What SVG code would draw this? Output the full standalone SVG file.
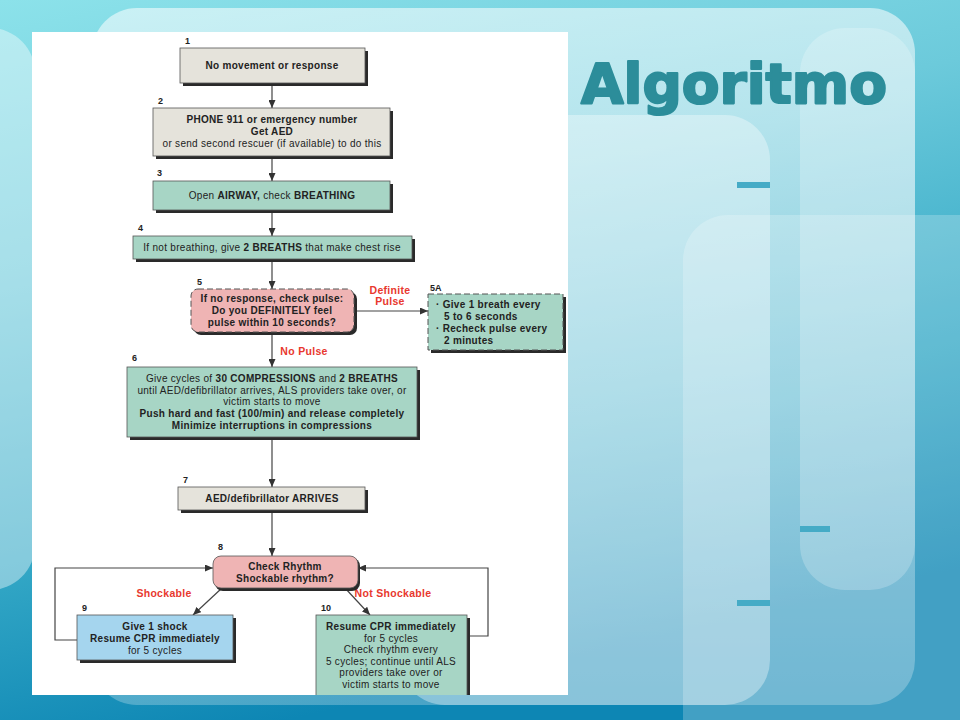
<svg xmlns="http://www.w3.org/2000/svg" width="960" height="720" viewBox="0 0 960 720">
<defs>
<linearGradient id="bg" x1="0" y1="0" x2="0.3" y2="1">
<stop offset="0" stop-color="#8ce2ea"/>
<stop offset="0.35" stop-color="#6ccadb"/>
<stop offset="0.72" stop-color="#34a8c6"/>
<stop offset="1" stop-color="#0d86b4"/>
</linearGradient>
<linearGradient id="pale" x1="0" y1="0" x2="0" y2="1">
<stop offset="0" stop-color="#ffffff" stop-opacity="0.55"/>
<stop offset="1" stop-color="#ffffff" stop-opacity="0.25"/>
</linearGradient>
<clipPath id="panelClip"><rect x="32" y="32" width="536" height="663"/></clipPath>
<marker id="ah" viewBox="0 0 8 7" markerWidth="8" markerHeight="7" refX="8" refY="3.5" orient="auto" markerUnits="userSpaceOnUse">
<path d="M0,0 L8,3.5 L0,7 z" fill="#333"/>
</marker>
<style>
.sh{fill:#2a2a2a}
.bx{stroke:#555;stroke-width:0.8}
.dash{stroke:#555;stroke-width:1;stroke-dasharray:6 3}
.gray{fill:#e5e3db}
.green{fill:#a7d5c5}
.pink{fill:#efb4b4}
.blue{fill:#a5d5ee}
.t{font-family:"Liberation Sans",Arial,sans-serif;font-size:10px;letter-spacing:0.3px;fill:#222;text-anchor:middle}
.l{text-anchor:start}
.b{font-weight:bold}
.num{font-family:"Liberation Sans",Arial,sans-serif;font-size:9px;font-weight:bold;fill:#222}
.red{font-family:"Liberation Sans",Arial,sans-serif;font-size:10.5px;letter-spacing:0.3px;font-weight:bold;fill:#e8382e;text-anchor:middle}
.ln{stroke:#444;stroke-width:1.2;fill:none}
.bar{fill:#45abc6}
</style>
</defs>

<!-- background -->
<rect x="0" y="0" width="960" height="720" fill="url(#bg)"/>
<rect x="-60" y="28" width="95" height="562" rx="45" fill="#ffffff" fill-opacity="0.4"/>
<rect x="92" y="8" width="823" height="697" rx="45" fill="url(#pale)"/>
<rect x="400" y="115" width="370" height="590" rx="45" fill="#ffffff" fill-opacity="0.35"/>
<rect x="800" y="28" width="115" height="562" rx="45" fill="#ffffff" fill-opacity="0.22"/>
<rect x="683" y="215" width="330" height="560" rx="45" fill="#ffffff" fill-opacity="0.22"/>
<rect class="bar" x="737" y="182" width="33" height="6"/>
<rect class="bar" x="800" y="526" width="30" height="6"/>
<rect class="bar" x="737" y="600" width="33" height="6"/>
<text x="581" y="103" font-family="'DejaVu Sans',Verdana,sans-serif" font-weight="bold" font-size="55" fill="#2c8d9a" stroke="#2c8d9a" stroke-width="2.2" stroke-linejoin="round">Algoritmo</text>

<!-- white panel -->
<rect x="32" y="32" width="536" height="663" fill="#ffffff"/>

<g clip-path="url(#panelClip)">
<!-- connectors -->
<g id="connectors">
<line class="ln" x1="272" y1="83" x2="272" y2="108" marker-end="url(#ah)"/>
<line class="ln" x1="272" y1="156" x2="272" y2="181" marker-end="url(#ah)"/>
<line class="ln" x1="272" y1="210" x2="272" y2="236" marker-end="url(#ah)"/>
<line class="ln" x1="272" y1="259" x2="272" y2="289" marker-end="url(#ah)"/>
<line class="ln" x1="354" y1="311" x2="428" y2="311" marker-end="url(#ah)"/>
<line class="ln" x1="272" y1="332" x2="272" y2="367" marker-end="url(#ah)"/>
<line class="ln" x1="272" y1="437" x2="272" y2="487" marker-end="url(#ah)"/>
<line class="ln" x1="272" y1="510" x2="272" y2="556" marker-end="url(#ah)"/>
<line class="ln" x1="222" y1="588" x2="193" y2="615" marker-end="url(#ah)"/>
<line class="ln" x1="345" y1="588" x2="370" y2="615" marker-end="url(#ah)"/>
<polyline class="ln" points="77,640 55,640 55,568 213,568" marker-end="url(#ah)"/>
<polyline class="ln" points="467,636 488,636 488,568 358,568" marker-end="url(#ah)"/>
<text class="red" x="390" y="294">Definite</text>
<text class="red" x="390" y="305">Pulse</text>
<text class="red" x="304" y="355">No Pulse</text>
<text class="red" x="164" y="597">Shockable</text>
<text class="red" x="393" y="597">Not Shockable</text>
</g>

<g id="n1">
<text class="num" x="185" y="44">1</text>
<rect class="sh" x="183" y="51" width="185" height="35"/>
<rect class="bx gray" x="180" y="48" width="185" height="35"/>
<text class="t b" x="272" y="69">No movement or response</text>
</g>

<g id="n2">
<text class="num" x="158" y="104">2</text>
<rect class="sh" x="156" y="111" width="237" height="48"/>
<rect class="bx gray" x="153" y="108" width="237" height="48"/>
<text class="t b" x="272" y="123">PHONE 911 or emergency number</text>
<text class="t b" x="272" y="135">Get AED</text>
<text class="t" x="272" y="147">or send second rescuer (if available) to do this</text>
</g>

<g id="n3">
<text class="num" x="157" y="176">3</text>
<rect class="sh" x="156" y="184" width="237" height="29"/>
<rect class="bx green" x="153" y="181" width="237" height="29"/>
<text class="t" x="272" y="199">Open <tspan class="b">AIRWAY,</tspan> check <tspan class="b">BREATHING</tspan></text>
</g>

<g id="n4">
<text class="num" x="138" y="231">4</text>
<rect class="sh" x="136" y="239" width="279" height="23"/>
<rect class="bx green" x="133" y="236" width="279" height="23"/>
<text class="t" x="272" y="251">If not breathing, give <tspan class="b">2 BREATHS</tspan> that make chest rise</text>
</g>

<g id="n5">
<text class="num" x="197" y="285">5</text>
<rect class="sh" x="194" y="292" width="163" height="43" rx="7"/>
<rect class="dash pink" x="191" y="289" width="163" height="43" rx="7"/>
<text class="t b" x="272" y="302">If no response, check pulse:</text>
<text class="t b" x="272" y="314">Do you DEFINITELY feel</text>
<text class="t b" x="272" y="326">pulse within 10 seconds?</text>
</g>

<g id="n5A">
<text class="num" x="430" y="291">5A</text>
<rect class="sh" x="431" y="297" width="135" height="56"/>
<rect class="dash green" x="428" y="294" width="135" height="56"/>
<text class="t b l" x="436" y="308">· Give 1 breath every</text>
<text class="t b l" x="444" y="320">5 to 6 seconds</text>
<text class="t b l" x="436" y="332">· Recheck pulse every</text>
<text class="t b l" x="444" y="344">2 minutes</text>
</g>

<g id="n6">
<text class="num" x="132" y="361">6</text>
<rect class="sh" x="130" y="370" width="290" height="70"/>
<rect class="bx green" x="127" y="367" width="290" height="70"/>
<text class="t" x="272" y="382">Give cycles of <tspan class="b">30 COMPRESSIONS</tspan> and <tspan class="b">2 BREATHS</tspan></text>
<text class="t" x="272" y="394">until AED/defibrillator arrives, ALS providers take over, or</text>
<text class="t" x="272" y="405">victim starts to move</text>
<text class="t b" x="272" y="417">Push hard and fast (100/min) and release completely</text>
<text class="t b" x="272" y="429">Minimize interruptions in compressions</text>
</g>

<g id="n7">
<text class="num" x="183" y="483">7</text>
<rect class="sh" x="181" y="490" width="187" height="23"/>
<rect class="bx gray" x="178" y="487" width="187" height="23"/>
<text class="t b" x="272" y="502">AED/defibrillator ARRIVES</text>
</g>

<g id="n8">
<text class="num" x="218" y="550">8</text>
<rect class="sh" x="215" y="558" width="145" height="33" rx="8"/>
<rect class="bx pink" x="213" y="556" width="145" height="32" rx="8"/>
<text class="t b" x="285" y="570">Check Rhythm</text>
<text class="t b" x="285" y="582">Shockable rhythm?</text>
</g>

<g id="n9">
<text class="num" x="82" y="611">9</text>
<rect class="sh" x="80" y="618" width="156" height="45"/>
<rect class="bx blue" x="77" y="615" width="156" height="45"/>
<text class="t b" x="155" y="630">Give 1 shock</text>
<text class="t b" x="155" y="642">Resume CPR immediately</text>
<text class="t" x="155" y="654">for 5 cycles</text>
</g>

<g id="n10">
<text class="num" x="321" y="611">10</text>
<rect class="sh" x="319" y="618" width="151" height="90"/>
<rect class="bx green" x="316" y="615" width="151" height="90"/>
<text class="t b" x="391" y="630">Resume CPR immediately</text>
<text class="t" x="391" y="642">for 5 cycles</text>
<text class="t" x="391" y="653">Check rhythm every</text>
<text class="t" x="391" y="665">5 cycles; continue until ALS</text>
<text class="t" x="391" y="676">providers take over or</text>
<text class="t" x="391" y="688">victim starts to move</text>
</g>
</g>
</svg>
